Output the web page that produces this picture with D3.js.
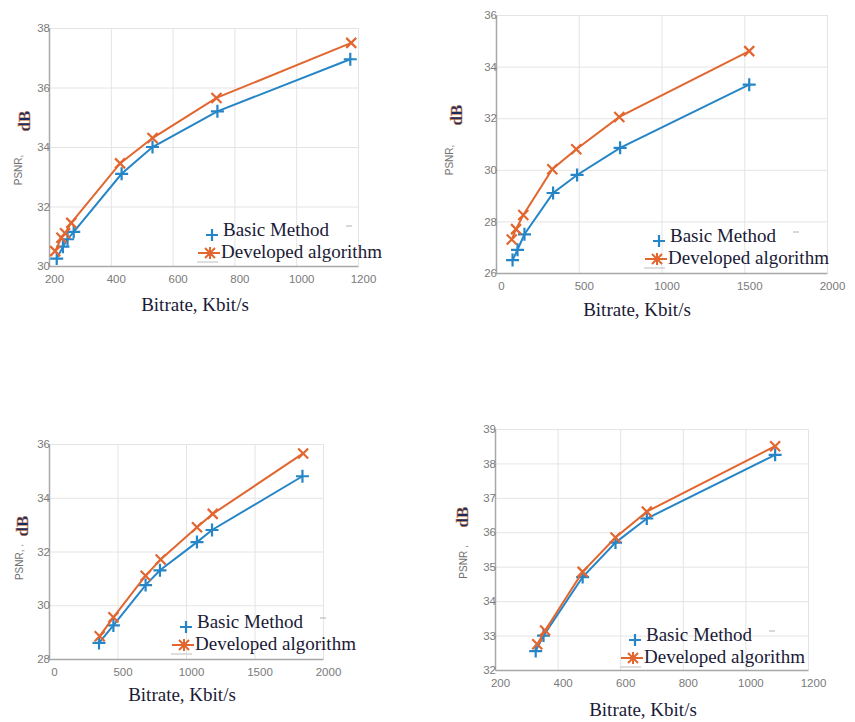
<!DOCTYPE html>
<meta charset="utf-8">
<body style="margin:0;background:#fff">
<div id="chart"></div>

<script src="https://d3js.org/d3.v7.min.js"></script>
<script>

// ---- data ----
// panel 1 (top left)
var p1BasicRate = [225, 245, 260, 280, 435, 535, 745, 1175];
var p1BasicPsnr = [30.25, 30.65, 30.9, 31.15, 33.1, 34.0, 35.2, 36.95];
var p1DevRate   = [220, 240, 252, 272, 430, 535, 742, 1178];
var p1DevPsnr   = [30.5, 30.95, 31.1, 31.45, 33.45, 34.3, 35.65, 37.5];
var p1XTicks = [200, 400, 600, 800, 1000, 1200];
var p1YTicks = [30, 32, 34, 36, 38];

// panel 2 (top right)
var p2BasicRate = [100, 130, 172, 345, 490, 750, 1530];
var p2BasicPsnr = [26.5, 26.9, 27.5, 29.1, 29.8, 30.85, 33.3];
var p2DevRate   = [95, 121, 165, 340, 485, 745, 1530];
var p2DevPsnr   = [27.3, 27.7, 28.25, 30.02, 30.8, 32.05, 34.6];
var p2XTicks = [0, 500, 1000, 1500, 2000];
var p2YTicks = [26, 28, 30, 32, 34, 36];

// panel 3 (bottom left)
var p3BasicRate = [365, 470, 705, 810, 1080, 1190, 1850];
var p3BasicPsnr = [28.6, 29.25, 30.75, 31.3, 32.35, 32.8, 34.8];
var p3DevRate   = [370, 470, 705, 815, 1080, 1195, 1855];
var p3DevPsnr   = [28.85, 29.55, 31.1, 31.7, 32.9, 33.4, 35.65];
var p3XTicks = [0, 500, 1000, 1500, 2000];
var p3YTicks = [28, 30, 32, 34, 36];

// panel 4 (bottom right)
var p4BasicRate = [330, 355, 480, 585, 685, 1095];
var p4BasicPsnr = [32.55, 33.0, 34.7, 35.7, 36.4, 38.25];
var p4DevRate   = [335, 360, 480, 585, 685, 1095];
var p4DevPsnr   = [32.75, 33.15, 34.85, 35.85, 36.6, 38.5];
var p4XTicks = [200, 400, 600, 800, 1000, 1200];
var p4YTicks = [32, 33, 34, 35, 36, 37, 38, 39];

var seriesNames = ["Basic Method", "Developed algorithm"];
var xTitle = "Bitrate, Kbit/s";

var blue = "#2585c7", orange = "#e2662f";
var serif = "'Times New Roman', 'Liberation Serif', serif";
var sans = "Arial, 'Liberation Sans', sans-serif";

var svg = d3.select("#chart")
  .append("svg")
    .attr("width", 855)
    .attr("height", 722);

var panels = [
  {box: [49, 28, 358, 266], xDom: [200, 1200], yDom: [30, 38], xt: p1XTicks, yt: p1YTicks,
   basic: [p1BasicRate, p1BasicPsnr], dev: [p1DevRate, p1DevPsnr],
   xLab: [195, 311], psnr: [22, 170, "PSNR,"], db: [30, 121], leg: [210, 235]},
  {box: [496, 15, 827, 273], xDom: [0, 2000], yDom: [26, 36], xt: p2XTicks, yt: p2YTicks,
   basic: [p2BasicRate, p2BasicPsnr], dev: [p2DevRate, p2DevPsnr],
   xLab: [637, 316], psnr: [453, 160, "PSNR,"], db: [462, 115], leg: [657, 241]},
  {box: [49, 444, 323, 659], xDom: [0, 2000], yDom: [28, 36], xt: p3XTicks, yt: p3YTicks,
   basic: [p3BasicRate, p3BasicPsnr], dev: [p3DevRate, p3DevPsnr],
   xLab: [182, 701], psnr: [23, 562, "PSNR, ."], db: [28, 526], leg: [184, 627]},
  {box: [495, 429, 808, 670], xDom: [200, 1200], yDom: [32, 39], xt: p4XTicks, yt: p4YTicks,
   basic: [p4BasicRate, p4BasicPsnr], dev: [p4DevRate, p4DevPsnr],
   xLab: [643, 716], psnr: [467, 562, "PSNR ,"], db: [468, 517], leg: [633, 640]}
];

var plusPath = "M-6.5,0H6.5M0,-6.5V6.5";
var crossPath = "M-5,-5L5,5M-5,5L5,-5";

panels.forEach(drawPanel);

function drawPanel(p) {
  var L = p.box[0], T = p.box[1], R = p.box[2], B = p.box[3];
  var x = d3.scaleLinear().domain(p.xDom).range([L, R]);
  var y = d3.scaleLinear().domain(p.yDom).range([B, T]);
  var g = svg.append("g");

  // grid
  g.append("g")
    .attr("transform", "translate(0," + B + ")")
    .call(d3.axisBottom(x).tickValues(p.xt).tickSize(-(B - T)).tickFormat(""))
    .call(function(s) { s.select(".domain").remove(); })
    .selectAll("line").attr("stroke", "#e4e4e4");
  g.append("g")
    .attr("transform", "translate(" + L + ",0)")
    .call(d3.axisLeft(y).tickValues(p.yt).tickSize(-(R - L)).tickFormat(""))
    .call(function(s) { s.select(".domain").remove(); })
    .selectAll("line").attr("stroke", "#e4e4e4");

  // axes
  var xa = g.append("g")
    .attr("transform", "translate(0," + B + ")")
    .call(d3.axisBottom(x).tickValues(p.xt).tickSize(0).tickPadding(9).tickFormat(d3.format("d")));
  xa.select(".domain").attr("stroke", "#a8a8a8").attr("stroke-width", 1.5);
  xa.selectAll("text").attr("dx", 5).attr("fill", "#7a7a7a")
    .style("font-family", sans).style("font-size", "11.5px");

  var ya = g.append("g")
    .attr("transform", "translate(" + L + ",0)")
    .call(d3.axisLeft(y).tickValues(p.yt).tickSize(0).tickPadding(-1).tickFormat(d3.format("d")));
  ya.select(".domain").attr("stroke", "#a8a8a8").attr("stroke-width", 1.5);
  ya.selectAll("text").attr("fill", "#7a7a7a")
    .style("font-family", sans).style("font-size", "11.5px");

  // series
  var line = d3.line().x(function(d) { return x(d[0]); }).y(function(d) { return y(d[1]); });
  [[p.basic, blue, plusPath], [p.dev, orange, crossPath]].forEach(function(s) {
    var pts = d3.zip(s[0][0], s[0][1]);
    g.append("path").datum(pts)
      .attr("d", line).attr("fill", "none")
      .attr("stroke", s[1]).attr("stroke-width", 2);
    g.selectAll(null).data(pts).enter().append("path")
      .attr("d", s[2])
      .attr("transform", function(d) { return "translate(" + x(d[0]) + "," + y(d[1]) + ")"; })
      .attr("stroke", s[1]).attr("stroke-width", 2.2).attr("fill", "none");
  });

  // legend
  var lx = p.leg[0], ly = p.leg[1];
  g.append("path").attr("d", "M-6,0H6M0,-6V6")
    .attr("transform", "translate(" + (lx + 2) + "," + ly + ")")
    .attr("stroke", blue).attr("stroke-width", 2.2);
  g.append("line").attr("x1", lx - 12).attr("x2", lx + 10).attr("y1", ly + 18).attr("y2", ly + 18)
    .attr("stroke", orange).attr("stroke-width", 2);
  g.append("path").attr("d", "M-5,-5L5,5M-5,5L5,-5M0,-6V6")
    .attr("transform", "translate(" + lx + "," + (ly + 18) + ")")
    .attr("stroke", orange).attr("stroke-width", 2);
  g.append("line").attr("x1", lx - 13).attr("x2", lx + 8).attr("y1", ly + 27).attr("y2", ly + 27)
    .attr("stroke", "#c8c8c8").attr("stroke-width", 1.2);
  g.append("line").attr("x1", lx + 136).attr("x2", lx + 142).attr("y1", ly - 9).attr("y2", ly - 9)
    .attr("stroke", "#b0b0b0").attr("stroke-width", 1);
  g.append("text").attr("x", lx + 13).attr("y", ly + 1)
    .attr("font-family", serif).attr("font-size", 19).attr("fill", "#1a1a36")
    .text(seriesNames[0]);
  g.append("text").attr("x", lx + 11).attr("y", ly + 23)
    .attr("font-family", serif).attr("font-size", 19).attr("fill", "#1a1a36")
    .text(seriesNames[1]);

  // axis titles
  g.append("text").attr("x", p.xLab[0]).attr("y", p.xLab[1])
    .attr("text-anchor", "middle")
    .attr("font-family", serif).attr("font-size", 19).attr("fill", "#1a1a36")
    .text(xTitle);
  g.append("text")
    .attr("transform", "translate(" + p.psnr[0] + "," + p.psnr[1] + ")rotate(-90)")
    .attr("text-anchor", "middle")
    .attr("font-family", sans).attr("font-size", 10).attr("fill", "#707070")
    .text(p.psnr[2]);
  g.append("text")
    .attr("transform", "translate(" + p.db[0] + "," + p.db[1] + ")rotate(-90)")
    .attr("text-anchor", "middle")
    .attr("font-family", serif).attr("font-size", 17).attr("font-weight", "bold")
    .attr("fill", "#1d2a5e").attr("stroke", "#e08a40").attr("stroke-width", 0.4)
    .text("dB");
}

</script>
</body>
